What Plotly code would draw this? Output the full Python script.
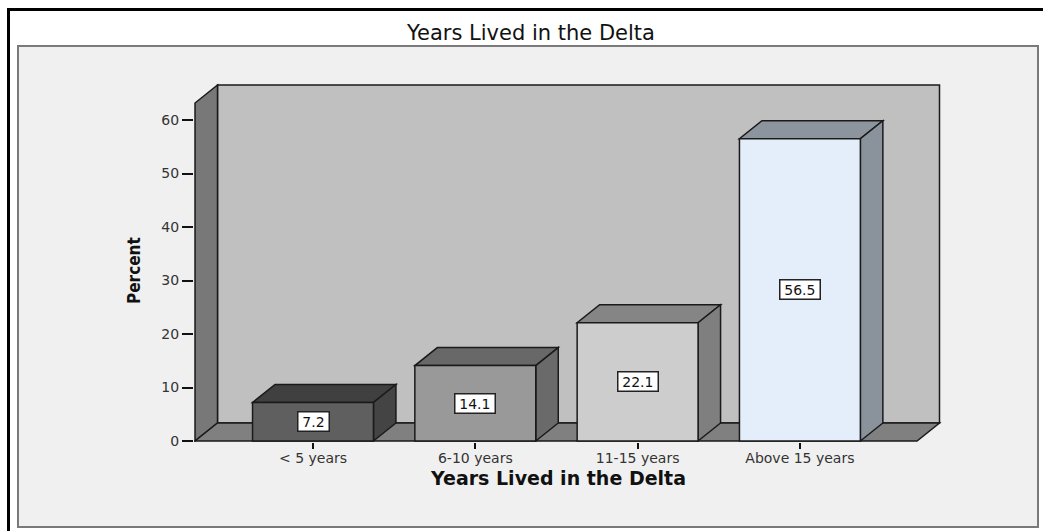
import plotly.graph_objects as go

# ---- data ----
categories = ["< 5 years", "6-10 years", "11-15 years", "Above 15 years"]
percent = [7.2, 14.1, 22.1, 56.5]
y_ticks = [0, 10, 20, 30, 40, 50, 60]

# ---- styling ----
front_colors = ["#5f5f5f", "#999999", "#cdcdcd", "#e3eefa"]
top_colors = ["#404040", "#686868", "#858585", "#8c949e"]
side_colors = ["#444444", "#6a6a6a", "#7f7f7f", "#8a929c"]
EDGE = "#1a1a1a"
FONT = "DejaVu Sans, Liberation Sans, Arial"
W, H = 1043, 531
ML, MR, MT, MB = 194, 101, 83, 89
XR = [-0.7332, 3.8755]
YR = [-0.187, 66.916]

# 3D geometry (data units)
BAR_W = 0.745
DX, DY = 0.1386, 3.364
X0, X1 = -0.727, 3.7215
YTOP = 63.18

pw = W - ML - MR
ph = H - MT - MB


def pxx(px):
    return (px - ML) / pw


def pxy(py):
    return (H - MB - py) / ph


def poly(pts, fill, width=1.5):
    d = "M " + " L ".join(f"{x},{y}" for x, y in pts) + " Z"
    return dict(type="path", path=d, xref="x", yref="y", fillcolor=fill,
                line=dict(color=EDGE, width=width), layer="below")


shapes = []
# outer frame (top/left black border) and inner panel
shapes.append(dict(type="rect", xref="paper", yref="paper",
                   x0=pxx(18), x1=pxx(1038), y0=pxy(527), y1=pxy(46),
                   fillcolor="#f0f0f0", line=dict(color="#7a7a7a", width=2), layer="below"))
shapes.append(dict(type="line", xref="paper", yref="paper",
                   x0=pxx(7), x1=pxx(1045), y0=pxy(9.5), y1=pxy(9.5),
                   line=dict(color="black", width=3), layer="below"))
shapes.append(dict(type="line", xref="paper", yref="paper",
                   x0=pxx(8.5), x1=pxx(8.5), y0=pxy(535), y1=pxy(8),
                   line=dict(color="black", width=3), layer="below"))

# back wall, left wall, floor
shapes.append(poly([(X0 + DX, DY), (X1 + DX, DY), (X1 + DX, YTOP + DY), (X0 + DX, YTOP + DY)], "#c0c0c0"))
shapes.append(poly([(X0, 0), (X0, YTOP), (X0 + DX, YTOP + DY), (X0 + DX, DY)], "#787878"))
shapes.append(poly([(X0, 0), (X1, 0), (X1 + DX, DY), (X0 + DX, DY)], "#808080"))

# bar tops and sides
hw = BAR_W / 2
for i, v in enumerate(percent):
    c = i
    shapes.append(poly([(c - hw, v), (c + hw, v), (c + hw + DX, v + DY), (c - hw + DX, v + DY)], top_colors[i]))
    shapes.append(poly([(c + hw, 0), (c + hw + DX, DY), (c + hw + DX, v + DY), (c + hw, v)], side_colors[i]))

fig = go.Figure()
fig.add_trace(go.Bar(
    x=list(range(len(categories))), y=percent, width=BAR_W,
    marker=dict(color=front_colors, line=dict(color=EDGE, width=1.5)),
    hovertext=categories, hoverinfo="text+y", showlegend=False,
))

annotations = []
for i, v in enumerate(percent):
    annotations.append(dict(x=i, y=v / 2, xref="x", yref="y", text=f"\u2009{v:.1f}\u2009",
                            showarrow=False, bgcolor="white", bordercolor="#222",
                            borderwidth=1.5, borderpad=1, xanchor="center", yanchor="middle",
                            font=dict(family=FONT, size=14, color="#111")))
# titles
annotations.append(dict(x=pxx(530), y=pxy(33), xref="paper", yref="paper",
                        xanchor="center", yanchor="middle",
                        text="Years Lived in the Delta", showarrow=False,
                        font=dict(family=FONT, size=21, color="#111")))
annotations.append(dict(x=pxx(558), y=pxy(478), xref="paper", yref="paper",
                        xanchor="center", yanchor="middle",
                        text="<b>Years Lived in the Delta</b>", showarrow=False,
                        font=dict(family=FONT, size=19, color="#111")))
annotations.append(dict(x=pxx(134), y=pxy(271), xref="paper", yref="paper",
                        xanchor="center", yanchor="middle",
                        text="<b>Percent</b>", showarrow=False, textangle=-90,
                        font=dict(family="Liberation Sans Narrow, Arial Narrow, DejaVu Sans Condensed", size=17, color="#111")))

fig.update_layout(
    width=W, height=H,
    margin=dict(l=ML, r=MR, t=MT, b=MB),
    paper_bgcolor="white", plot_bgcolor="rgba(0,0,0,0)",
    shapes=shapes, annotations=annotations,
    xaxis=dict(range=XR, tickmode="array", tickvals=list(range(len(categories))), ticktext=categories,
               showgrid=False, zeroline=False, showline=False, ticks="outside", ticklen=6,
               tickwidth=1.5, tickcolor="#111", ticklabelstandoff=-3,
               tickfont=dict(family=FONT, size=14, color="#333")),
    yaxis=dict(range=YR, tickmode="array", tickvals=y_ticks,
               showgrid=False, zeroline=False, showline=False, ticks="outside", ticklen=11,
               tickwidth=1.5, tickcolor="#111",
               tickfont=dict(family=FONT, size=14, color="#333")),
)

fig.write_html("out.html", config={"displayModeBar": False},
               post_script="document.body.style.margin='0px';document.body.style.overflow='hidden';")
